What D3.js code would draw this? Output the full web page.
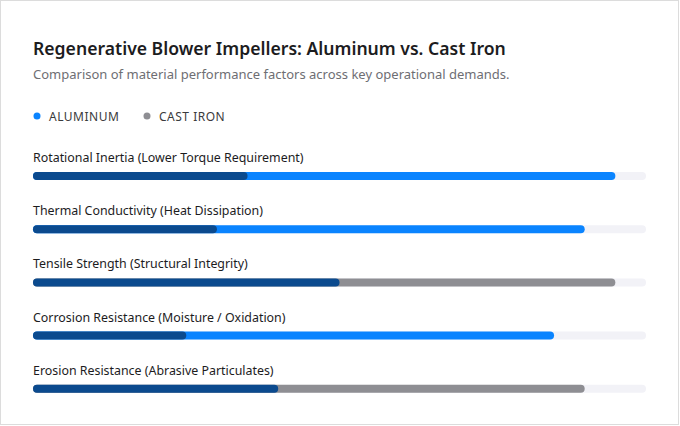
<!DOCTYPE html>
<html>
<head>
<meta charset="utf-8">
<script src="https://cdn.jsdelivr.net/npm/d3@7"></script>
<style>
  body { margin: 0; background: #fff; }
  svg { display: block; font-family: "Segoe UI", "Noto Sans", "Open Sans", sans-serif; }
</style>
</head>
<body>
<div id="chart"></div>
<script>
// factors and scores (0-100)
var factors = [
  "Rotational Inertia (Lower Torque Requirement)",
  "Thermal Conductivity (Heat Dissipation)",
  "Tensile Strength (Structural Integrity)",
  "Corrosion Resistance (Moisture / Oxidation)",
  "Erosion Resistance (Abrasive Particulates)"
];
var aluminum = [95, 90, 50, 85, 40];
var castIron = [35, 30, 95, 25, 90];
var seriesNames = ["ALUMINUM", "CAST IRON"];

var W = 680, H = 426;
var blue = "#0a84ff", gray = "#8e8e93", navy = "#0b4a8e", track = "#f2f2f7";

var svg = d3.select("#chart").append("svg").attr("width", W).attr("height", H);

// card
svg.append("rect").attr("x", 0.5).attr("y", 0.5).attr("width", W - 2).attr("height", H - 2)
   .attr("fill", "#fff").attr("stroke", "#dcdcdc");

svg.append("text").attr("x", 33).attr("y", 55)
   .attr("font-size", 17.6).attr("font-weight", 600).attr("fill", "#1c1c1e")
   .text("Regenerative Blower Impellers: Aluminum vs. Cast Iron");

svg.append("text").attr("x", 33).attr("y", 79)
   .attr("font-size", 13).attr("fill", "#6e6e73")
   .text("Comparison of material performance factors across key operational demands.");

// legend
var legendX = [37, 147];
var legend = svg.selectAll(".legend").data(seriesNames).enter().append("g")
   .attr("transform", function(d, i){ return "translate(" + legendX[i] + ",116)"; });
legend.append("circle").attr("r", 3.5).attr("fill", function(d, i){ return i == 0 ? blue : gray; });
legend.append("text").attr("x", 12).attr("y", 4.5)
   .attr("font-size", 12).attr("letter-spacing", 0.5).attr("fill", "#3a3a3c")
   .text(function(d){ return d; });

// scales
var x = d3.scaleLinear().domain([0, 100]).range([33, 646]);
var y = d3.scaleBand().domain(factors).range([140, 406]);

var rows = svg.selectAll(".row").data(factors).enter().append("g")
   .attr("transform", function(d){ return "translate(0," + y(d) + ")"; });

rows.append("text").attr("x", 33).attr("y", 22)
   .attr("font-size", 12.4).attr("fill", "#1c1c1e")
   .text(function(d){ return d; });

var barY = 32, barH = 8;
rows.append("rect").attr("x", x(0)).attr("y", barY).attr("width", x(100) - x(0)).attr("height", barH)
   .attr("rx", 4).attr("fill", track);

// winner bar in its colour
rows.append("rect").attr("x", x(0)).attr("y", barY)
   .attr("width", function(d, i){ return x(Math.max(aluminum[i], castIron[i])) - x(0); })
   .attr("height", barH).attr("rx", 4)
   .attr("fill", function(d, i){ return aluminum[i] >= castIron[i] ? blue : gray; });

// lower score on top in navy
rows.append("rect").attr("x", x(0)).attr("y", barY)
   .attr("width", function(d, i){ return x(Math.min(aluminum[i], castIron[i])) - x(0); })
   .attr("height", barH).attr("rx", 4).attr("fill", navy);
</script>
</body>
</html>
